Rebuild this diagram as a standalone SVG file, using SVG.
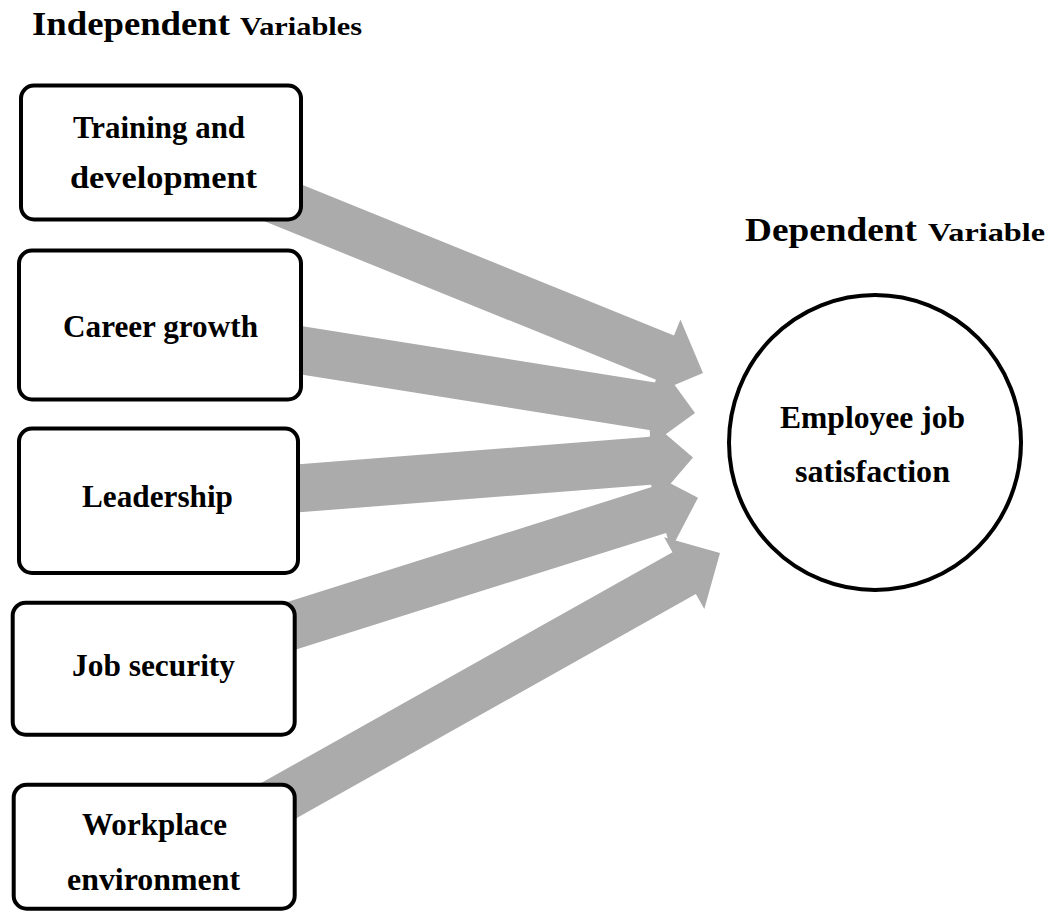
<svg xmlns="http://www.w3.org/2000/svg" width="1050" height="911" viewBox="0 0 1050 911">
  <style>
    .box { fill: #ffffff; stroke: #000000; stroke-width: 4; }
    .lbl { font-family: "Liberation Serif", "Times New Roman", Times, serif; font-weight: bold; fill: #000000; }
    .node { font-size: 31px; text-anchor: middle; }
    .big { font-size: 33px; }
    .small { font-size: 25px; }
    .arrow { fill: #ababab; stroke: none; }
  </style>

  <rect width="1050" height="911" fill="#ffffff"/>

  <!-- Column headings -->
  <g id="heading-independent">
    <text class="lbl big" x="32" y="35" textLength="198" lengthAdjust="spacingAndGlyphs">Independent</text>
    <text class="lbl small" x="240" y="35" textLength="122" lengthAdjust="spacingAndGlyphs">Variables</text>
  </g>
  <g id="heading-dependent">
    <text class="lbl big" x="745" y="241" textLength="172" lengthAdjust="spacingAndGlyphs">Dependent</text>
    <text class="lbl small" x="928" y="241" textLength="117" lengthAdjust="spacingAndGlyphs">Variable</text>
  </g>

  <!-- Block arrows from each factor towards the outcome -->
  <g id="connectors">
    <polygon class="arrow" points="209,147.1 674,335.4 680.4,319.6 703,373 649.6,395.6 656,379.8 191,191.5"/>
    <polygon class="arrow" points="203.8,310.4 658.3,382.9 660.9,366.1 695,413 648.1,447.1 650.7,430.3 196.2,357.8"/>
    <polygon class="arrow" points="198.1,472.1 650.2,436.8 648.9,419.8 693,457.5 655.3,501.6 654,484.6 201.9,519.9"/>
    <polygon class="arrow" points="192.8,631.7 651.7,487.1 646.6,470.9 698,497.7 671.2,549.1 666.1,532.9 207.2,677.5"/>
    <polygon class="arrow" points="188.3,823.9 672.5,552.2 664.1,537.3 720,553 704.3,608.9 695.9,594 211.7,865.7"/>
  </g>

  <!-- Independent variables -->
  <g id="training">
    <rect class="box" x="21" y="85.5" width="280" height="134" rx="13"/>
    <text class="lbl node" x="159" y="138" textLength="172" lengthAdjust="spacingAndGlyphs">Training and</text>
    <text class="lbl node" x="163.5" y="188" textLength="187" lengthAdjust="spacingAndGlyphs">development</text>
  </g>
  <g id="career">
    <rect class="box" x="19" y="250.5" width="282" height="149" rx="13"/>
    <text class="lbl node" x="160.5" y="337" textLength="195" lengthAdjust="spacingAndGlyphs">Career growth</text>
  </g>
  <g id="leadership">
    <rect class="box" x="19" y="428.5" width="279" height="144.5" rx="13"/>
    <text class="lbl node" x="157.5" y="507" textLength="151" lengthAdjust="spacingAndGlyphs">Leadership</text>
  </g>
  <g id="security">
    <rect class="box" x="12.7" y="602.7" width="282" height="132" rx="13"/>
    <text class="lbl node" x="153.5" y="676" textLength="163" lengthAdjust="spacingAndGlyphs">Job security</text>
  </g>
  <g id="environment">
    <rect class="box" x="13.7" y="784.7" width="281" height="124" rx="13"/>
    <text class="lbl node" x="154.5" y="835" textLength="145" lengthAdjust="spacingAndGlyphs">Workplace</text>
    <text class="lbl node" x="153.5" y="890" textLength="173" lengthAdjust="spacingAndGlyphs">environment</text>
  </g>

  <!-- Dependent variable -->
  <g id="satisfaction">
    <ellipse class="box" cx="875" cy="442.5" rx="146" ry="147.5"/>
    <text class="lbl node" x="872.5" y="428" textLength="185" lengthAdjust="spacingAndGlyphs">Employee job</text>
    <text class="lbl node" x="872.5" y="482" textLength="155" lengthAdjust="spacingAndGlyphs">satisfaction</text>
  </g>
</svg>
